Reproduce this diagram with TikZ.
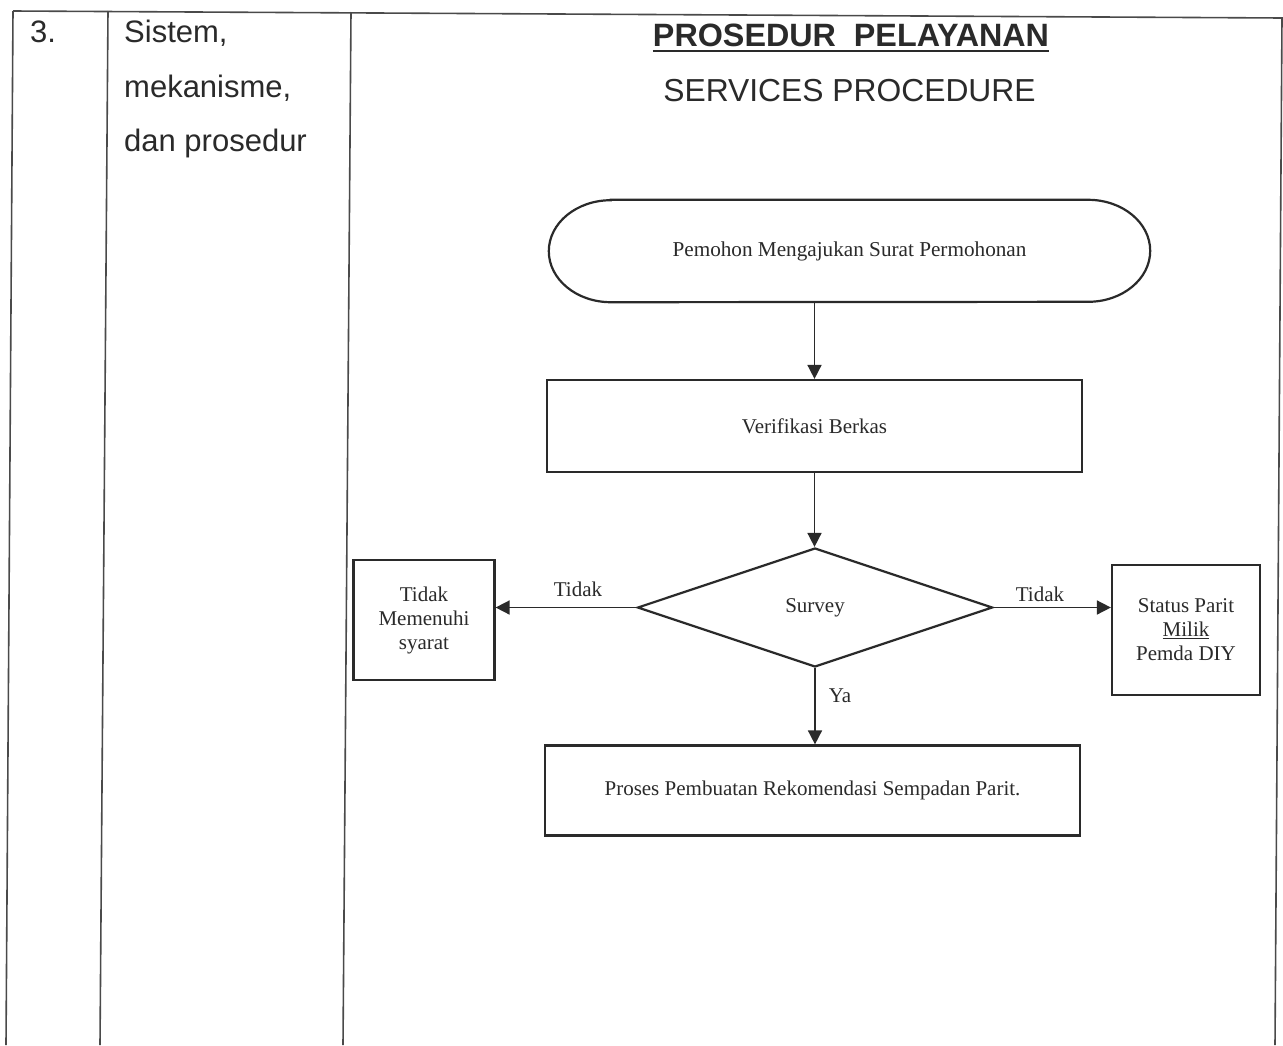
\documentclass[tikz,border=0pt]{standalone}
\usepackage{fontspec}
\setmainfont{Liberation Serif}
\newfontfamily\arialf{Liberation Sans}
\usetikzlibrary{arrows.meta,shapes.geometric}
\definecolor{ink}{HTML}{2A2A2A}
\definecolor{tblc}{HTML}{4A4A4A}
\begin{document}
\begin{tikzpicture}[x=1pt,y=-1pt,
  tbl/.style={draw=tblc, line width=1.6pt},
  boxst/.style={draw=ink, line width=2.2pt, inner sep=0pt, font=\fontsize{21}{24}\selectfont, align=center, text=ink},
  arr/.style={draw=ink, line width=1.6pt, -{Triangle[width=14pt,length=14pt]}},
  lbl/.style={font=\fontsize{21}{24}\selectfont, inner sep=0pt, text=ink},
  side/.style={font=\arialf\fontsize{31}{36}\selectfont, anchor=base west, inner sep=0pt, text=ink}]
\useasboundingbox (0,0) rectangle (1283,1045);
\fill[white] (0,0) rectangle (1283,1045);

% table lines
\draw[tbl] (13,11) -- (1283,18);
\draw[tbl] (13,11) -- (6,1045);
\draw[tbl] (108,11) -- (100,1045);
\draw[tbl] (351,12) -- (343,1045);
\draw[tbl] (1282,18) -- (1275,1045);

% left column texts
\node[side] (num) at (30,42) {3.};
\node[side] (s1) at (124,42) {Sistem,};
\node[side] (s2) at (124,97) {mekanisme,};
\node[side] (s3) at (124,151) {dan prosedur};

% titles
\node[font=\arialf\bfseries\fontsize{32.3}{36}\selectfont, anchor=base, inner sep=0pt, text=ink] (t1) at (851,46) {PROSEDUR\ \ PELAYANAN};
\draw[draw=ink, line width=2.2pt] ([yshift=-5pt]t1.base west) -- ([yshift=-5pt]t1.base east);
\node[font=\arialf\fontsize{31.8}{36}\selectfont, anchor=base, inner sep=0pt, text=ink] (t2) at (849.5,101) {SERVICES PROCEDURE};

% terminal
\node[minimum width=601pt, minimum height=102pt, inner sep=0pt, font=\fontsize{21.2}{24}\selectfont, text=ink] (term) at (849.5,251) {Pemohon Mengajukan Surat Permohonan};
\draw[draw=ink, line width=2.2pt] ([xshift=62pt]term.north west) -- ([xshift=-62pt]term.north east)
  arc[start angle=90, end angle=-90, x radius=62pt, y radius=51pt]
  -- ([xshift=62pt]term.south west)
  arc[start angle=270, end angle=90, x radius=62pt, y radius=51pt] -- cycle;

% process boxes
\node[boxst, minimum width=535pt, minimum height=92pt] (verif) at (814.5,426) {Verifikasi Berkas};
\node[diamond, draw=ink, line width=2.2pt, minimum width=355pt, minimum height=119pt, inner sep=0pt, font=\fontsize{21}{24}\selectfont, text=ink] (surv) at (815,607.5) {Survey};
\node[boxst, minimum width=141pt, minimum height=120pt] (lbox) at (424,620) {Tidak\\Memenuhi\\syarat};
\node[boxst, minimum width=148pt, minimum height=130pt] (rbox) at (1186,630) {Status Parit\\\underline{Milik}\\Pemda DIY};
\node[boxst, minimum width=535pt, minimum height=90pt] (proc) at (812.5,790.5) {Proses Pembuatan Rekomendasi Sempadan Parit.};

% connectors
\draw[arr] (term.south -| verif.north) -- (verif.north);
\draw[arr] (verif.south) -- (verif.south |- surv.north);
\draw[arr] (surv.west) -- (surv.west -| lbox.east);
\draw[arr] (surv.east) -- (surv.east -| rbox.west);
\draw[arr] (surv.south) -- (surv.south |- proc.north);

% labels
\node[lbl] (tl) at (578,589) {Tidak};
\node[lbl] (tr) at (1040,594) {Tidak};
\node[lbl] (ya) at (840,696) {Ya};
\end{tikzpicture}
\end{document}
